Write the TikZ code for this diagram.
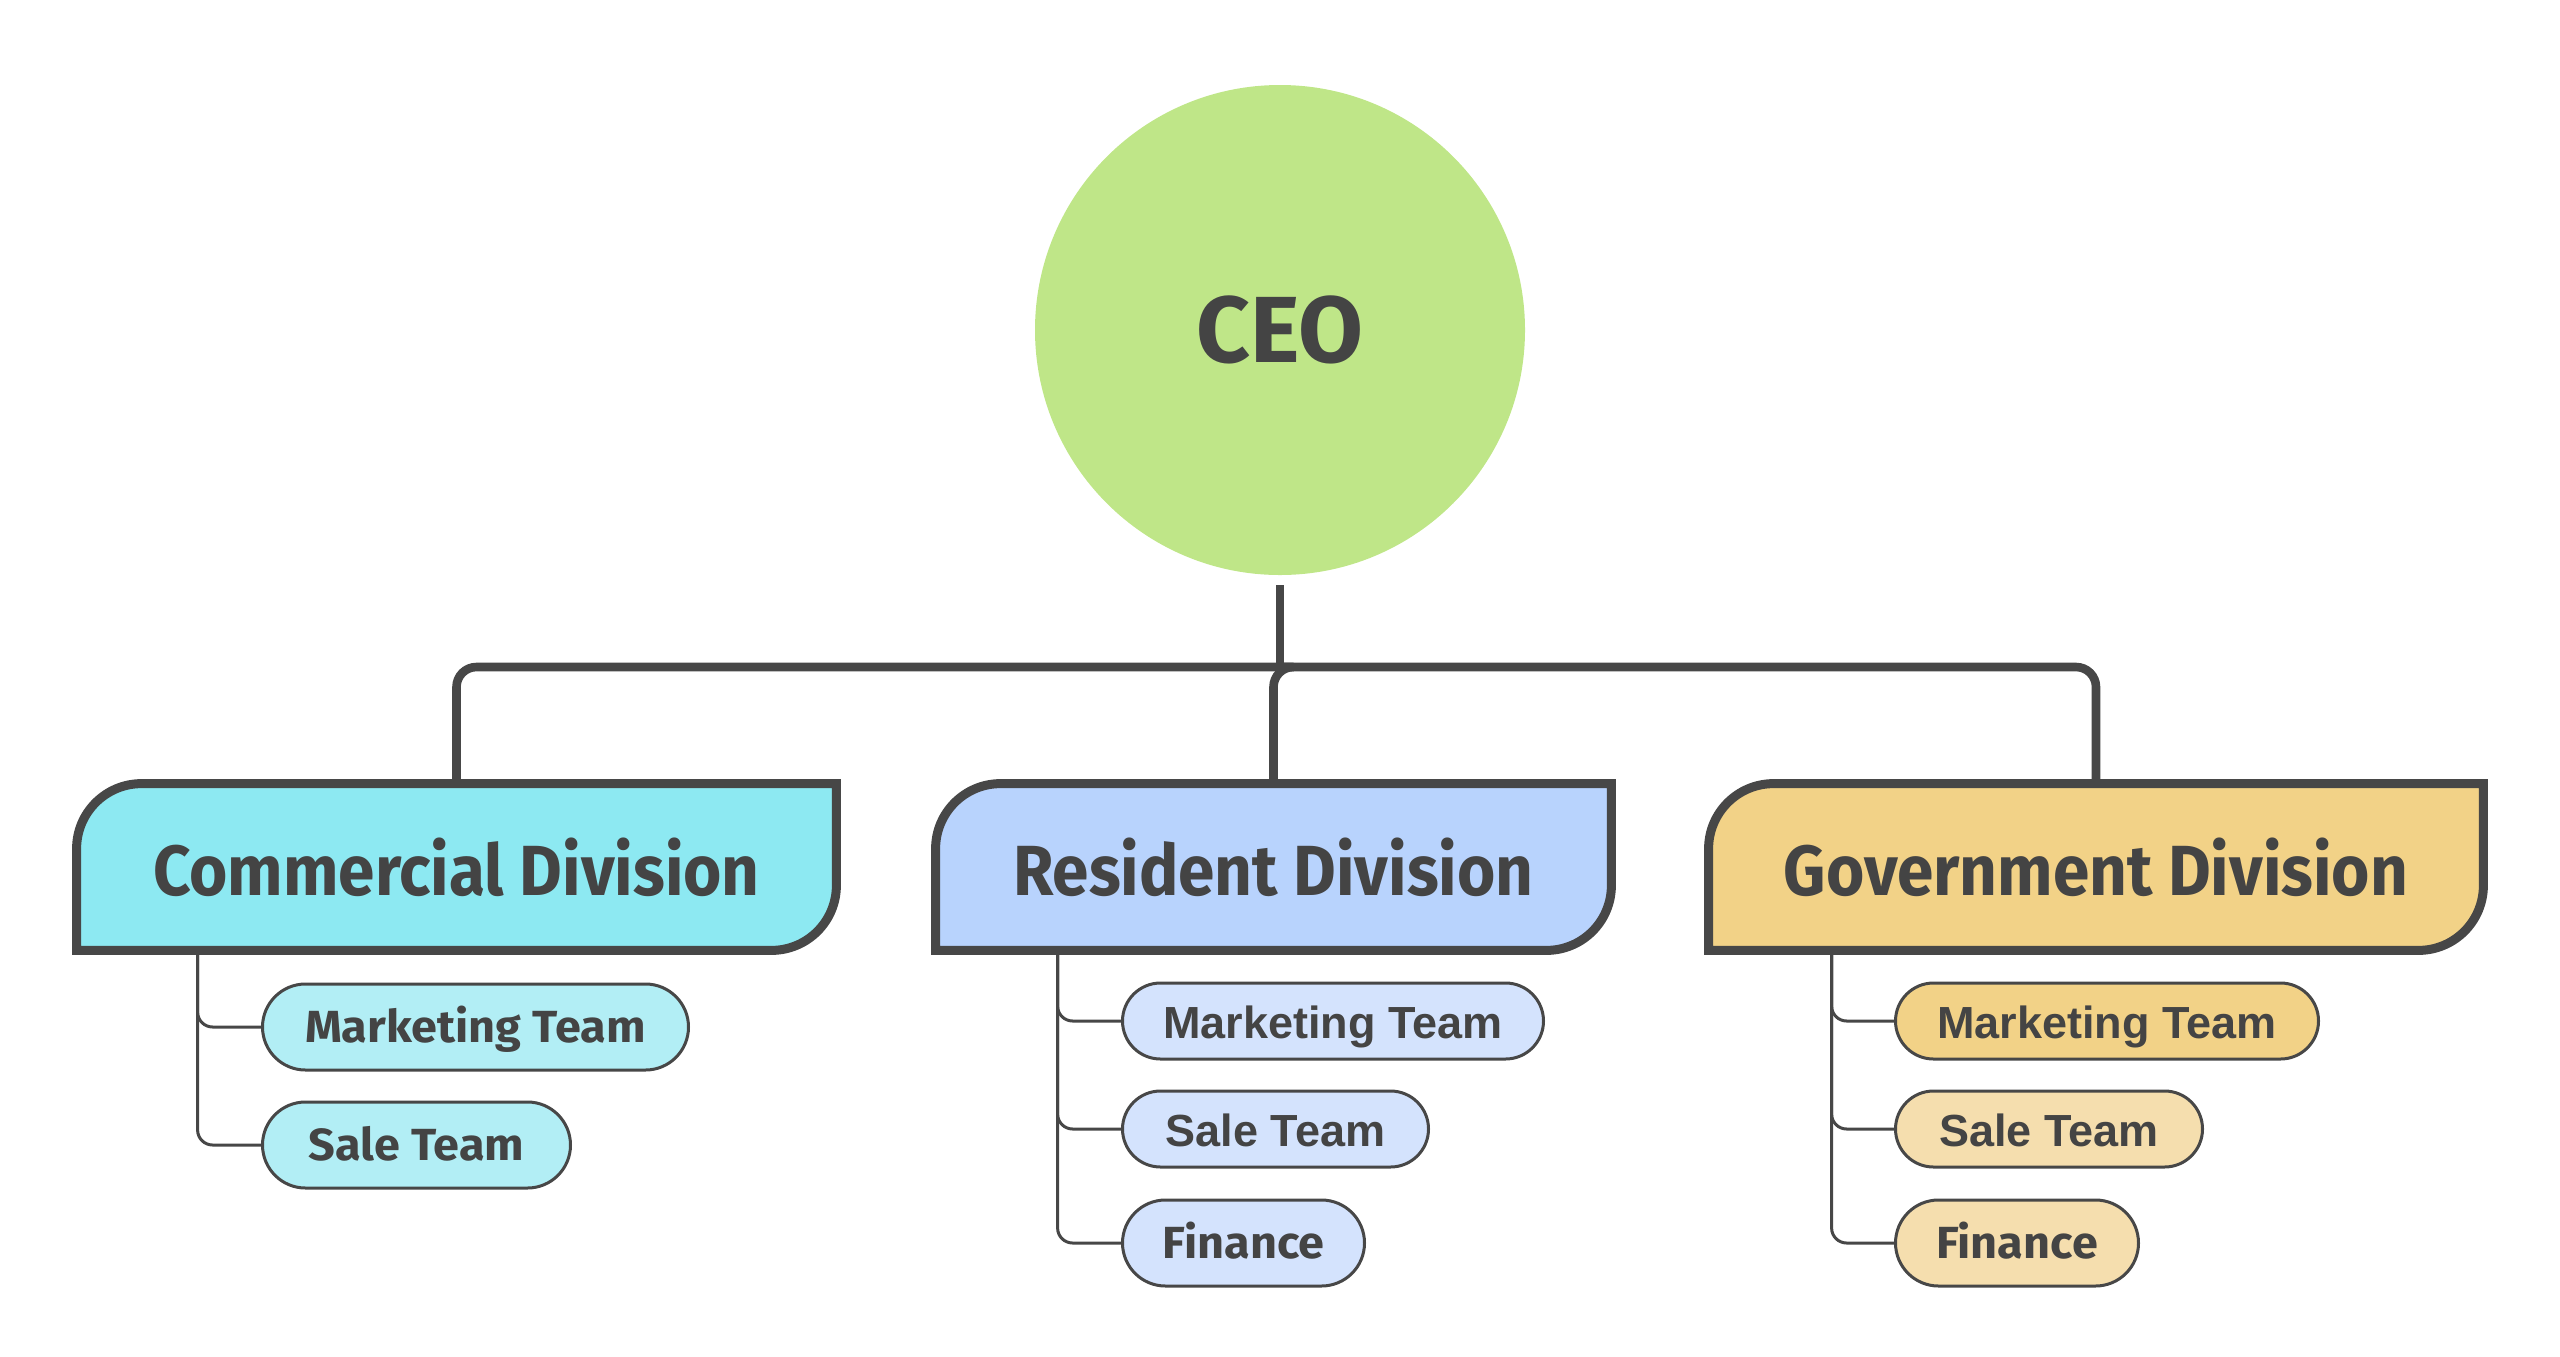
\documentclass[tikz,border=0pt]{standalone}
\usepackage{fontspec}
\setmainfont{Liberation Sans}
\newfontfamily\comicf{Fira Sans}
\newfontfamily\comictitle{Fira Sans}[FakeStretch=0.925]
\newfontfamily\comicwide{Fira Sans}[FakeStretch=1.04]
\usetikzlibrary{backgrounds,calc}
\definecolor{ink}{HTML}{474747}
\definecolor{txt}{HTML}{444444}
\definecolor{ceoC}{HTML}{BFE688}
\definecolor{comBox}{HTML}{8DE9F2}
\definecolor{comSub}{HTML}{B2EEF5}
\definecolor{resBox}{HTML}{B8D3FD}
\definecolor{resSub}{HTML}{D4E3FD}
\definecolor{govBox}{HTML}{F2D287}
\definecolor{govSub}{HTML}{F5DEAE}
\newcommand\divoutline[2]{%
  \draw[ink, line width=4.5pt, fill=#2]
    (#1.south west) -- ([yshift=-32.5pt]#1.north west)
    arc[start angle=180,end angle=90,radius=32.5pt]
    -- (#1.north east) -- ([yshift=32.5pt]#1.south east)
    arc[start angle=0,end angle=-90,radius=32.5pt] -- cycle;}
\tikzset{
  divbox/.style={rectangle, inner sep=0, minimum height=83pt, text=txt,
    text height=28.5pt, text depth=0pt,
    font=\comictitle\bfseries\fontsize{35.5}{42}\selectfont},
  subbox/.style={draw=ink, line width=1.5pt, anchor=west, inner sep=0, text=txt, text depth=0pt},
  subtall/.style={minimum height=43pt, rounded corners=21.5pt},
  subshort/.style={minimum height=38pt, rounded corners=19pt},
  comicsub/.style={font=\comicwide\bfseries\fontsize{22.5}{27}\selectfont, text height=15.5pt},
  arialsub/.style={font=\bfseries\fontsize{22.5}{27}\selectfont, text height=17pt},
  trunk/.style={ink, line width=4.3pt, rounded corners=10pt},
  branch/.style={ink, line width=1.5pt, rounded corners=7.5pt},
}
\begin{document}
\begin{tikzpicture}[x=0.5pt,y=-0.5pt, line join=round, line cap=round]
\useasboundingbox (0,0) rectangle (2560,1356);
% CEO
\node[circle, fill=ceoC, minimum size=245pt, inner sep=0, text=txt,
  text height=32.4pt, text depth=0pt,
  font=\comicf\bfseries\fontsize{47}{56}\selectfont] (ceo) at (1280,330) {CEO};
% divisions
\node[divbox, minimum width=379.5pt] (cd) at (456.5,867) {Commercial Division};
\node[divbox, minimum width=337.5pt] (rd) at (1273.5,867) {Resident Division};
\node[divbox, minimum width=387pt] (gd) at (2096,867) {Government Division};
% sub teams
\node[subbox, subtall, comicsub, fill=comSub, minimum width=213pt] (cm) at (261,1027) {Marketing Team};
\node[subbox, subtall, comicsub, fill=comSub, minimum width=154pt] (cs) at (261,1145) {Sale Team};
\node[subbox, subshort, arialsub, fill=resSub, minimum width=210.5pt] (rm) at (1121,1021) {Marketing Team};
\node[subbox, subshort, arialsub, fill=resSub, minimum width=153pt] (rs) at (1121,1129) {Sale Team};
\node[subbox, subtall, comicsub, fill=resSub, minimum width=121pt] (rf) at (1121,1243) {Finance};
\node[subbox, subshort, arialsub, fill=govBox, minimum width=211.5pt] (gm) at (1894,1021) {Marketing Team};
\node[subbox, subshort, arialsub, fill=govSub, minimum width=153.5pt] (gs) at (1894,1129) {Sale Team};
\node[subbox, subtall, comicsub, fill=govSub, minimum width=121.5pt] (gf) at (1894,1243) {Finance};
\coordinate (hub) at (1280,667);
\begin{pgfonlayer}{background}
  \divoutline{cd}{comBox}
  \divoutline{rd}{resBox}
  \divoutline{gd}{govBox}
  \draw[trunk] ([yshift=-5pt]ceo.south) -- (hub);
  \draw[trunk] (hub) -| (cd.north);
  \draw[trunk] (hub) -| (rd.north);
  \draw[trunk] (hub) -| (gd.north);
  \draw[branch] ([xshift=60.5pt]cd.south west) |- (cm.west);
  \draw[branch] ([xshift=60.5pt]cd.south west) |- (cs.west);
  \draw[branch] ([xshift=61pt]rd.south west) |- (rm.west);
  \draw[branch] ([xshift=61pt]rd.south west) |- (rs.west);
  \draw[branch] ([xshift=61pt]rd.south west) |- (rf.west);
  \draw[branch] ([xshift=61.5pt]gd.south west) |- (gm.west);
  \draw[branch] ([xshift=61.5pt]gd.south west) |- (gs.west);
  \draw[branch] ([xshift=61.5pt]gd.south west) |- (gf.west);
\end{pgfonlayer}
\end{tikzpicture}
\end{document}
